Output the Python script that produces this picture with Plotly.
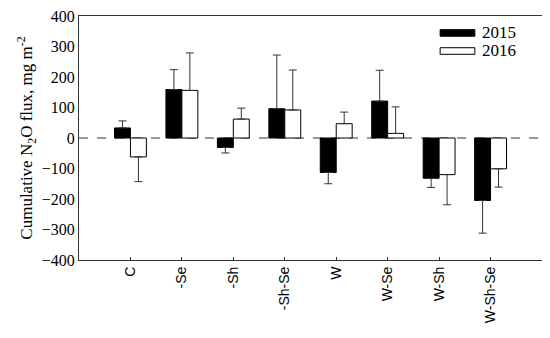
import plotly.graph_objects as go

categories = ["C", "-Se", "-Sh", "-Sh-Se", "W", "W-Se", "W-Sh", "W-Sh-Se"]
values_2015 = [33, 159, -31, 96, -113, 121, -132, -205]
err_2015 = [23, 65, 18, 176, 37, 101, 30, 107]
values_2016 = [-62, 156, 62, 92, 47, 15, -120, -101]
err_2016 = [81, 123, 36, 131, 38, 87, 99, 60]
y_ticks = [-400, -300, -200, -100, 0, 100, 200, 300, 400]

SERIF = "Liberation Serif"
SANS = "Liberation Sans"

xpos = list(range(len(categories)))
bw = 0.31


def err_dict(vals, errs):
    up = [e if v >= 0 else 0 for v, e in zip(vals, errs)]
    dn = [e if v < 0 else 0 for v, e in zip(vals, errs)]
    return dict(type="data", symmetric=False, array=up, arrayminus=dn,
                color="#333333", thickness=1, width=4)


fig = go.Figure()
fig.add_trace(go.Bar(x=xpos, y=values_2015, width=bw, offset=-bw, name="2015",
                     marker=dict(color="black", line=dict(color="black", width=1)),
                     error_y=err_dict(values_2015, err_2015)))
fig.add_trace(go.Bar(x=xpos, y=values_2016, width=bw, offset=0, name="2016",
                     marker=dict(color="white", line=dict(color="black", width=1)),
                     error_y=err_dict(values_2016, err_2016)))

# zero dashed line
fig.add_shape(type="line", xref="paper", yref="y", x0=0, x1=1, y0=0, y1=0,
              line=dict(color="#333333", width=1.2, dash="dash"), layer="below")

# custom legend
fig.add_shape(type="rect", xref="paper", yref="paper", x0=0.78, x1=0.855, y0=0.917, y1=0.944,
              fillcolor="black", line=dict(color="black", width=1))
fig.add_shape(type="rect", xref="paper", yref="paper", x0=0.78, x1=0.855, y0=0.843, y1=0.870,
              fillcolor="white", line=dict(color="black", width=1))
fig.add_annotation(xref="paper", yref="paper", x=0.866, y=0.932, text="2015", showarrow=False,
                   xanchor="left", yanchor="middle",
                   font=dict(family=SERIF, size=17, color="black"))
fig.add_annotation(xref="paper", yref="paper", x=0.866, y=0.858, text="2016", showarrow=False,
                   xanchor="left", yanchor="middle",
                   font=dict(family=SERIF, size=17, color="black"))

fig.update_layout(
    width=542, height=330,
    margin=dict(l=71, r=8, t=8, b=78),
    plot_bgcolor="white", paper_bgcolor="white",
    showlegend=False,
    barmode="overlay",
    xaxis=dict(range=[-1, 8], tickvals=xpos, ticktext=categories, tickangle=-90,
               ticks="inside", ticklen=3, tickcolor="#333333",
               showline=True, linecolor="#333333", linewidth=1, mirror=True,
               showgrid=False, zeroline=False, automargin=False,
               ticklabeloverflow="allow",
               tickfont=dict(family=SANS, size=14, color="black")),
    yaxis=dict(range=[-400, 400], tickvals=y_ticks, ticks="",
               showline=True, linecolor="#333333", linewidth=1, mirror=True,
               showgrid=False, zeroline=False, automargin=False,
               ticklabeloverflow="allow",
               tickfont=dict(family=SERIF, size=16, color="black"),
               title=dict(text="Cumulative N<sub>2</sub>O flux, mg m<sup>-2</sup>",
                          font=dict(family=SERIF, size=17, color="black"),
                          standoff=4)),
)

fig.write_html("out.html")
